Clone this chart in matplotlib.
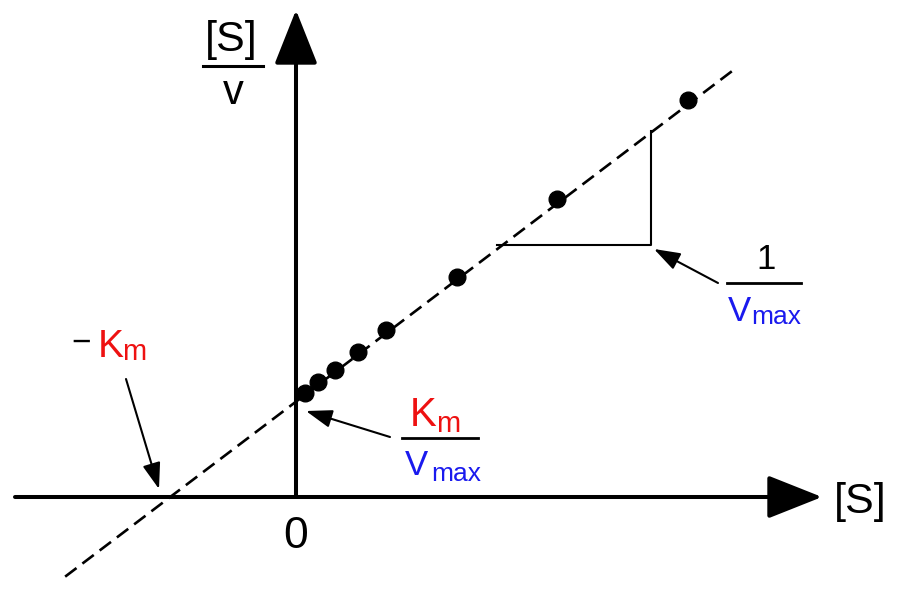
import matplotlib
matplotlib.use("Agg")
import matplotlib.pyplot as plt

plt.rcParams['font.family'] = ['Liberation Sans', 'DejaVu Sans']

# Hanes-Woolf plot: [S]/v against [S]
s_vals = [0.067, 0.163, 0.289, 0.459, 0.667, 1.19, 1.93, 2.90]
ratio_vals = [0.770, 0.852, 0.941, 1.074, 1.237, 1.630, 2.207, 2.941]

# fitted line (ends)
fit_x = [-1.71, 3.25]
fit_y = [-0.59, 3.17]

# slope triangle (1 / vmax)
tri_x = [1.489, 2.63, 2.63]
tri_y = [1.867, 1.867, 2.711]

RED = '#ee1111'
BLUE = '#1a1aee'


def P(xp, yp):
    # pixel position in the 900x600 picture -> data coords
    return (xp - 296) / 135.0, (497 - yp) / 135.0


fig = plt.figure(figsize=(9, 6), dpi=100)
ax = fig.add_axes([0, 0, 1, 1])
ax.set_xlim(P(0, 0)[0], P(900, 0)[0])
ax.set_ylim(P(0, 600)[1], P(0, 0)[1])
ax.axis('off')

# axes with arrow heads
big = dict(arrowstyle='-|>,head_length=34,head_width=13.5', mutation_scale=1,
           lw=2.9, color='black', shrinkA=0, shrinkB=0)
ax.annotate('', xy=P(822, 497), xytext=P(15, 497), arrowprops=big)
ax.annotate('', xy=P(296, 10), xytext=P(296, 497), arrowprops=big)

# data
ax.plot(fit_x, fit_y, color='black', lw=1.9, linestyle=(0, (5.4, 2.8)), zorder=2)
ax.plot(s_vals, ratio_vals, 'o', color='black', markersize=12, zorder=3)
ax.plot(tri_x, tri_y, color='black', lw=1.5, zorder=2)

# axis labels
ax.text(*P(231, 51), '[S]', fontsize=31, ha='center', va='baseline')
ax.plot(*zip(P(203, 66), P(263, 66)), color='black', lw=2.2)
ax.text(*P(233, 104), 'v', fontsize=30, ha='center', va='baseline')
ax.text(*P(296, 548), '0', fontsize=32, ha='center', va='baseline')
ax.text(*P(860, 513), '[S]', fontsize=31, ha='center', va='baseline')

# -Km
ax.text(*P(81, 343), '\u2212', fontsize=24, ha='center', va='center')
ax.text(*P(98, 357), 'K', fontsize=28, color=RED, ha='left', va='baseline')
ax.text(*P(122, 360), 'm', fontsize=21, color=RED, ha='left', va='baseline')

# Km / vmax
ax.text(*P(410, 426), 'K', fontsize=29, color=RED, ha='left', va='baseline')
ax.text(*P(436, 432), 'm', fontsize=21, color=RED, ha='left', va='baseline')
ax.plot(*zip(P(402, 438), P(478, 438)), color='black', lw=2.0)
ax.text(*P(405, 475), 'V', fontsize=25, color=BLUE, ha='left', va='baseline')
ax.text(*P(431, 481), 'max', fontsize=19, color=BLUE, ha='left', va='baseline')

# 1 / vmax
ax.text(*P(766, 269), '1', fontsize=25, ha='center', va='baseline')
ax.plot(*zip(P(727, 283), P(801, 283)), color='black', lw=2.0)
ax.text(*P(728, 321), 'V', fontsize=25, color=BLUE, ha='left', va='baseline')
ax.text(*P(751, 324), 'max', fontsize=19, color=BLUE, ha='left', va='baseline')

# pointer arrows
small = dict(arrowstyle='-|>,head_length=16,head_width=5.5', mutation_scale=1,
             lw=1.5, color='black', shrinkA=0, shrinkB=0)
ax.annotate('', xy=P(159, 489), xytext=P(126, 379), arrowprops=small)
ax.annotate('', xy=P(306, 411), xytext=P(390, 437), arrowprops=small)
ax.annotate('', xy=P(654, 249), xytext=P(718, 283), arrowprops=small)

fig.savefig('out.png', dpi=100, facecolor='white')
